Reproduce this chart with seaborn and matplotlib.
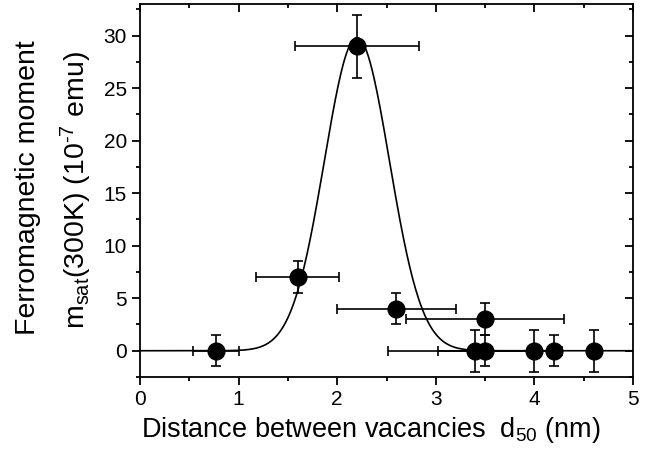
import numpy as np
import pandas as pd
import matplotlib
matplotlib.use("Agg")
import matplotlib.pyplot as plt
import seaborn as sns
from matplotlib.ticker import MultipleLocator

sns.set_theme(style="white")
plt.rcParams["font.family"] = ["Liberation Sans", "DejaVu Sans"]
plt.rcParams["mathtext.fontset"] = "custom"
plt.rcParams["mathtext.rm"] = "Liberation Sans"
plt.rcParams["mathtext.it"] = "Liberation Sans:italic"
plt.rcParams["text.color"] = "black"
plt.rcParams["axes.labelcolor"] = "black"
plt.rcParams["xtick.color"] = "black"
plt.rcParams["ytick.color"] = "black"

# Measured samples: vacancy spacing d50 (nm) and saturation moment (1e-7 emu)
d50 = [0.77, 1.60, 2.20, 2.60, 3.50, 3.40, 3.50, 4.00, 4.20, 4.60]
m_sat = [0.0, 7.0, 29.0, 4.0, 3.0, 0.0, 0.0, 0.0, 0.0, 0.0]
d50_err = [0.23, 0.42, 0.63, 0.60, 0.80, 0.88, 0.48, 0.0, 0.0, 0.0]
m_err = [1.5, 1.5, 3.0, 1.5, 1.5, 2.0, 1.5, 2.0, 1.5, 2.0]

# Gaussian fit parameters: baseline, amplitude, centre, width
fit_y0 = 0.0
fit_amp = 29.8
fit_xc = 2.2
fit_sigma = 0.33

x_label = r"Distance between vacancies  d$_{50}$ (nm)"
y_label_1 = "Ferromagnetic moment"
y_label_2 = r"m$_{\mathrm{sat}}$(300K) (10$^{\text{-7}}$ emu)"

df = pd.DataFrame({"d50": d50, "m_sat": m_sat})
xs = np.linspace(0, 5, 500)
fit_df = pd.DataFrame({
    "d50": xs,
    "m_sat": fit_y0 + fit_amp * np.exp(-(xs - fit_xc) ** 2 / (2 * fit_sigma ** 2)),
})

W, H = 668, 463
fig = plt.figure(figsize=(W / 100, H / 100), dpi=100)
ax = fig.add_axes([140 / W, 1 - 377 / H, (633 - 140) / W, (377 - 4) / H])

sns.lineplot(data=fit_df, x="d50", y="m_sat", ax=ax, color="black", lw=1.2, zorder=2)
ax.errorbar(d50, m_sat, xerr=d50_err, yerr=m_err, fmt="none", ecolor="black",
            elinewidth=1.2, capsize=3.5, capthick=1.2, zorder=3)
sns.scatterplot(data=df, x="d50", y="m_sat", ax=ax, color="black", s=150,
                edgecolor="black", linewidth=0.8, zorder=4, legend=False)

ax.set_xlim(0, 5)
ax.set_ylim(-2.5, 33)
ax.xaxis.set_major_locator(MultipleLocator(1))
ax.xaxis.set_minor_locator(MultipleLocator(0.5))
ax.yaxis.set_major_locator(MultipleLocator(5))
ax.yaxis.set_minor_locator(MultipleLocator(2.5))
ax.set_xlabel("")
ax.set_ylabel("")

for s in ax.spines.values():
    s.set_color("black")
    s.set_linewidth(1.3)

ax.tick_params(which="both", bottom=True, left=True, top=False, right=False,
               direction="out", color="black", width=1.3)
ax.tick_params(which="major", length=5.5, labelsize=15, pad=4)
ax.tick_params(which="minor", length=3)

# mirrored inward ticks on top and right
for side in ("top", "right"):
    sec = ax.secondary_xaxis("top") if side == "top" else ax.secondary_yaxis("right")
    axis = sec.xaxis if side == "top" else sec.yaxis
    if side == "top":
        axis.set_major_locator(MultipleLocator(1))
        axis.set_minor_locator(MultipleLocator(0.5))
    else:
        axis.set_major_locator(MultipleLocator(5))
        axis.set_minor_locator(MultipleLocator(2.5))
    sec.tick_params(which="both", direction="in", color="black", width=1.3,
                    labelleft=False, labelright=False, labeltop=False, labelbottom=False)
    sec.tick_params(which="major", length=5.5)
    sec.tick_params(which="minor", length=3)
    sec.spines[side].set_visible(False)

# axis titles
fig.text(371 / W, 1 - 437 / H, x_label, fontsize=19.5, ha="center", va="baseline")
fig.text(28 / W, 1 - 188 / H, y_label_1, fontsize=20.5, rotation=90,
         ha="center", va="center")
fig.text(76 / W, 1 - 190 / H, y_label_2, fontsize=20.5, rotation=90,
         ha="center", va="center")

fig.savefig("out.png", dpi=100)
